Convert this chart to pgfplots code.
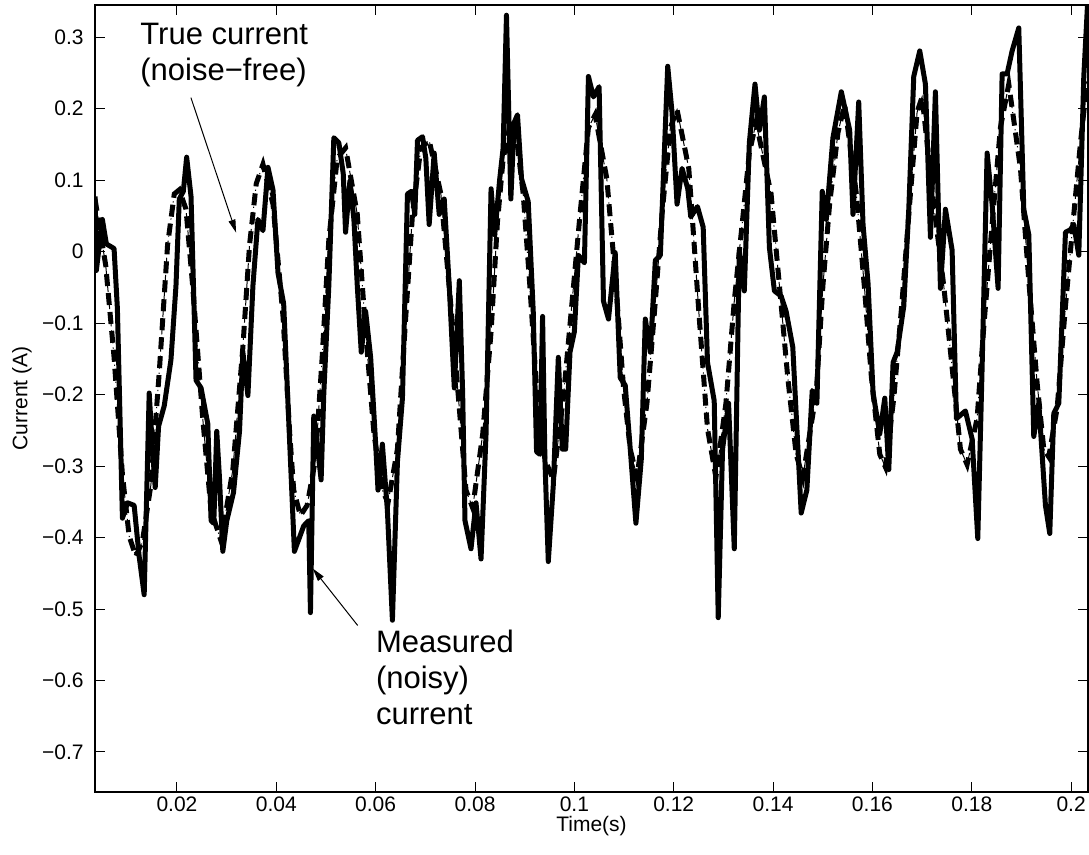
\documentclass[border=0pt]{standalone}
\usepackage{fontspec}
\setmainfont{Liberation Sans}
\usepackage{pgfplots}
\pgfplotsset{compat=1.18}
\usetikzlibrary{arrows.meta}

% true (noise-free) current
\pgfplotstableread{
t i
0.00350 0.0736
0.00566 -0.0193
0.00734 -0.1479
0.00902 -0.3121
0.01037 -0.3979
0.01172 -0.4264
0.01306 -0.4050
0.01475 -0.3264
0.01643 -0.1693
0.01811 0.0093
0.01946 0.0807
0.02047 0.0864
0.02182 0.0593
0.02316 -0.0479
0.02519 -0.2336
0.02687 -0.3621
0.02889 -0.4050
0.03125 -0.3050
0.03327 -0.1336
0.03461 0.0093
0.03596 0.0950
0.03731 0.1221
0.03933 0.0664
0.04135 -0.0907
0.04270 -0.2550
0.04350 -0.3336
0.04485 -0.3693
0.04620 -0.3550
0.04788 -0.2907
0.04923 -0.1479
0.05057 0.0164
0.05226 0.1307
0.05394 0.1450
0.05630 0.0521
0.05798 -0.1121
0.05966 -0.2550
0.06135 -0.3336
0.06249 -0.3514
0.06438 -0.2764
0.06606 -0.0907
0.06741 0.0521
0.06909 0.1450
0.07077 0.1557
0.07313 0.0807
0.07515 -0.0764
0.07684 -0.2193
0.07818 -0.3336
0.07953 -0.3586
0.08155 -0.2550
0.08323 -0.1121
0.08450 0.0400
0.08566 0.1300
0.08700 0.1750
0.08800 0.1810
0.08970 0.0807
0.09104 -0.0479
0.09239 -0.1907
0.09407 -0.2907
0.09576 -0.3193
0.09778 -0.2050
0.09946 -0.0764
0.10114 0.0521
0.10283 0.1736
0.10418 0.1914
0.10653 0.1021
0.10822 -0.0336
0.10990 -0.1907
0.11125 -0.2764
0.11260 -0.3157
0.11461 -0.2121
0.11630 -0.0693
0.11764 0.0521
0.11933 0.1736
0.12067 0.1986
0.12303 0.1164
0.12377 0.0450
0.12512 -0.0907
0.12680 -0.2479
0.12849 -0.3157
0.13051 -0.2121
0.13219 -0.0693
0.13387 0.0450
0.13522 0.1379
0.13657 0.1807
0.13960 0.0807
0.14128 -0.0479
0.14296 -0.1764
0.14465 -0.2836
0.14599 -0.3157
0.14869 -0.1979
0.15003 -0.0479
0.15138 0.0664
0.15306 0.1664
0.15441 0.2057
0.15677 0.0807
0.15845 -0.0550
0.15980 -0.1764
0.16148 -0.2836
0.16262 -0.3014
0.16430 -0.2050
0.16597 -0.0693
0.16765 0.0807
0.16899 0.1950
0.17000 0.2164
0.17235 0.0664
0.17436 -0.0479
0.17604 -0.1621
0.17772 -0.2764
0.17906 -0.2979
0.18107 -0.2336
0.18242 -0.1050
0.18409 0.0379
0.18577 0.1736
0.18745 0.2343
0.18980 0.1164
0.19148 -0.0407
0.19315 -0.1836
0.19450 -0.2764
0.19550 -0.2871
0.19718 -0.2193
0.19886 -0.0764
0.20054 0.0521
0.20188 0.1521
0.20322 0.2379
}\truecur

% measured (noisy) current
\pgfplotstableread{
t i
0.00350 0.0771
0.00377 -0.0264
0.00498 0.0450
0.00579 0.0107
0.00734 0.0043
0.00801 -0.0800
0.00902 -0.3729
0.01003 -0.3514
0.01138 -0.3550
0.01239 -0.4264
0.01340 -0.4800
0.01441 -0.1979
0.01508 -0.2764
0.01562 -0.3300
0.01630 -0.2443
0.01744 -0.2157
0.01879 -0.1514
0.01980 -0.0479
0.02047 0.0736
0.02128 0.0843
0.02195 0.1321
0.02283 0.0771
0.02384 -0.1800
0.02485 -0.1907
0.02620 -0.2407
0.02687 -0.3764
0.02741 -0.3800
0.02801 -0.2514
0.02855 -0.3157
0.02923 -0.4193
0.03003 -0.3764
0.03138 -0.3371
0.03259 -0.2514
0.03327 -0.1407
0.03428 -0.2014
0.03529 -0.0479
0.03630 0.0450
0.03731 0.0293
0.03832 0.1179
0.03933 0.0864
0.04034 -0.0300
0.04148 -0.0729
0.04364 -0.4193
0.04552 -0.3836
0.04653 -0.3764
0.04687 -0.5050
0.04754 -0.2300
0.04822 -0.2693
0.04902 -0.3193
0.04956 -0.1979
0.05057 -0.0479
0.05158 0.1593
0.05259 0.1521
0.05347 0.1093
0.05394 0.0271
0.05481 0.0986
0.05562 0.0450
0.05630 -0.0479
0.05710 -0.1407
0.05798 -0.0836
0.05899 -0.1479
0.06000 -0.2693
0.06047 -0.3336
0.06135 -0.2693
0.06236 -0.3621
0.06337 -0.5157
0.06438 -0.2943
0.06539 -0.2050
0.06640 0.0807
0.06721 0.0843
0.06788 0.0521
0.06842 0.1557
0.06943 0.1607
0.07010 0.1307
0.07077 0.0379
0.07178 0.1379
0.07279 0.0521
0.07380 0.0736
0.07481 -0.0479
0.07583 -0.1907
0.07684 -0.0407
0.07751 -0.1979
0.07798 -0.3764
0.07919 -0.4157
0.08020 -0.3514
0.08121 -0.4300
0.08222 -0.2550
0.08323 0.0879
0.08397 0.0236
0.08498 0.1021
0.08566 0.1450
0.08633 0.3307
0.08721 0.0736
0.08788 0.1807
0.08855 0.1914
0.08936 0.1021
0.09071 0.0700
0.09172 -0.0836
0.09239 -0.2800
0.09306 -0.2836
0.09360 -0.0907
0.09407 -0.2907
0.09475 -0.4336
0.09576 -0.3264
0.09677 -0.1479
0.09758 -0.2764
0.09825 -0.2764
0.09912 -0.1407
0.10000 -0.1121
0.10081 -0.0050
0.10202 -0.0157
0.10283 0.2450
0.10384 0.2164
0.10498 0.2307
0.10586 -0.0693
0.10687 -0.0943
0.10822 -0.0014
0.10923 -0.1764
0.11024 -0.1871
0.11125 -0.2764
0.11239 -0.3800
0.11347 -0.2907
0.11428 -0.0943
0.11529 -0.1407
0.11630 -0.0121
0.11731 -0.0050
0.11879 0.2593
0.11966 0.1950
0.12067 0.0664
0.12168 0.1164
0.12283 0.0879
0.12343 0.0486
0.12478 0.0629
0.12593 0.0343
0.12680 -0.1550
0.12815 -0.2086
0.12896 -0.5121
0.12983 -0.2764
0.13104 -0.2121
0.13219 -0.4157
0.13320 0.0021
0.13421 -0.0550
0.13522 0.1521
0.13636 0.2343
0.13724 0.1700
0.13825 0.2164
0.13926 0.0057
0.14027 -0.0550
0.14162 -0.0621
0.14263 -0.0836
0.14397 -0.1336
0.14566 -0.3657
0.14680 -0.3336
0.14788 -0.1943
0.14882 -0.2121
0.14990 0.0843
0.15071 0.0450
0.15205 0.1593
0.15374 0.2236
0.15542 0.1700
0.15609 0.0521
0.15724 0.2093
0.15811 0.0379
0.15912 -0.0443
0.16013 -0.1979
0.16148 -0.2550
0.16249 -0.2050
0.16329 -0.3050
0.16416 -0.1550
0.16497 -0.1407
0.16631 -0.0764
0.16732 0.0593
0.16832 0.2450
0.16953 0.2807
0.17067 0.2343
0.17168 0.0200
0.17268 0.2236
0.17369 -0.0514
0.17470 0.0593
0.17604 0.0021
0.17691 -0.2336
0.17872 -0.2229
0.18007 -0.2621
0.18121 -0.4014
0.18208 -0.1621
0.18309 0.1379
0.18409 0.0664
0.18530 -0.0514
0.18611 0.2486
0.18711 0.2486
0.18812 0.2807
0.18946 0.3129
0.19047 0.0593
0.19148 0.0236
0.19248 -0.2586
0.19349 -0.2121
0.19483 -0.3550
0.19570 -0.3943
0.19651 -0.2264
0.19752 -0.2121
0.19886 0.0271
0.19987 0.0307
0.20054 0.0379
0.20154 -0.0050
0.20255 0.2450
0.20335 0.3521
}\measured

\begin{document}
\begin{tikzpicture}
\begin{axis}[
    name=ax,
    scale only axis,
    width=496.5pt,
    height=393.5pt,
    xmin=0.0035, xmax=0.2034,
    ymin=-0.756, ymax=0.345,
    xtick={0.02,0.04,0.06,0.08,0.1,0.12,0.14,0.16,0.18,0.2},
    xticklabels={0.02,0.04,0.06,0.08,0.1,0.12,0.14,0.16,0.18,0.2},
    ytick={-0.7,-0.6,-0.5,-0.4,-0.3,-0.2,-0.1,0,0.1,0.2,0.3},
    yticklabels={−0.7,−0.6,−0.5,−0.4,−0.3,−0.2,−0.1,0,0.1,0.2,0.3},
    tick align=inside,
    major tick length=5pt,
    tick style={black, line width=0.5pt},
    axis line style={line width=0.6pt},
    ticklabel style={font=\fontsize{10.5}{12}\selectfont},
    xticklabel style={inner sep=2pt},
    yticklabel style={inner xsep=5.5pt},
    label style={font=\fontsize{10.5}{12}\selectfont},
    xlabel={Time(s)},
    ylabel={Current (A)},
    xlabel style={at={(axis description cs:0.5,-0.0432)}, anchor=center},
    ylabel style={at={(axis description cs:-0.0735,0.5)}, anchor=center},
]

% measured (noisy) current
\addplot[black, line width=2.5pt, line join=round] table[x=t, y=i] {\measured};

% true current, thick dashed
\addplot[black, line width=2.5pt, dash pattern=on 6pt off 3.5pt] table[x=t, y=i] {\truecur};

% thin dash-dot trace on the same curve
\addplot[black, line width=0.5pt, dash pattern=on 4pt off 2pt on 0.6pt off 2pt] table[x=t, y=i] {\truecur};

\node[anchor=north west, align=left, inner sep=0pt, font=\fontsize{15.5}{18}\selectfont]
    at (axis cs:0.01256,0.3203) {True current\\(noise−free)};
\draw[-{Triangle[length=6.5pt,width=3.5pt]}, line width=0.5pt]
    (axis cs:0.02281,0.2154) -- (axis cs:0.0319,0.0266);

\node[anchor=north west, align=left, inner sep=0pt, font=\fontsize{15.5}{18}\selectfont]
    at (axis cs:0.0600,-0.5287) {Measured\\(noisy)\\current};
\draw[-{Triangle[length=6.5pt,width=3.5pt]}, line width=0.5pt]
    (axis cs:0.05638,-0.523) -- (axis cs:0.04734,-0.4434);

\end{axis}
\pgfresetboundingbox
\path ([shift={(-47.5pt,-31pt)}]ax.south west) rectangle ([shift={(0.5pt,2.5pt)}]ax.north east);
\end{tikzpicture}
\end{document}
